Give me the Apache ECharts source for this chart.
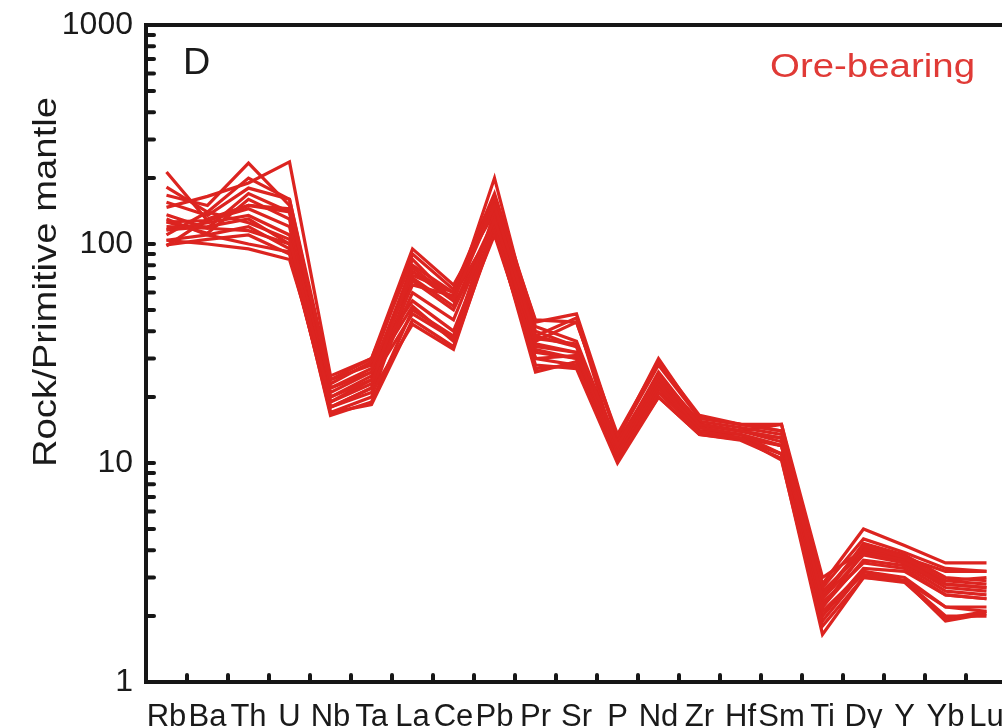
<!DOCTYPE html>
<html>
<head>
<meta charset="utf-8">
<title>Primitive-mantle normalised trace element patterns</title>
<script src="https://cdn.jsdelivr.net/npm/echarts@6/dist/echarts.min.js"></script>
<style>
  html, body { margin: 0; padding: 0; background: #ffffff; }
  #chart { width: 1002px; height: 728px; }
</style>
</head>
<body>
<div id="chart"></div>
<script>
// Element order along the spider diagram
const categories = ['Rb','Ba','Th','U','Nb','Ta','La','Ce','Pb','Pr','Sr','P','Nd','Zr','Hf','Sm','Ti','Dy','Y','Yb','Lu'];

// Rock / primitive mantle ratios, one array per ore-bearing sample
const sample01 = [213, 128, 150, 140, 22, 26, 80, 60, 150, 42, 36, 12, 26, 15, 14, 13, 2.4, 4.3, 3.8, 3.0, 2.9];
const sample02 = [182, 140, 200, 160, 24, 28, 90, 62, 170, 44, 48, 13, 28, 16, 15, 14, 2.8, 5.0, 4.2, 3.5, 3.5];
const sample03 = [167, 150, 234, 150, 20, 25, 75, 55, 200, 38, 46, 11, 24, 15, 14, 15, 2.5, 4.1, 3.6, 2.9, 2.8];
const sample04 = [147, 165, 190, 237, 25, 30, 95, 65, 140, 36, 44, 13, 30, 16, 15, 15, 3.0, 4.0, 3.7, 3.2, 3.2];
const sample05 = [136, 118, 170, 140, 18, 22, 70, 52, 130, 34, 32, 12, 22, 14, 13.5, 12, 2.2, 3.9, 3.5, 2.7, 2.6];
const sample06 = [126, 112, 160, 130, 17, 20, 68, 50, 125, 32, 30, 11, 21, 14, 13, 11, 2.0, 3.3, 3.2, 2.5, 2.4];
const sample07 = [126, 128, 145, 120, 19, 24, 65, 58, 120, 40, 34, 12, 23, 15, 14, 13, 2.6, 3.9, 3.6, 2.8, 2.7];
const sample08 = [116, 125, 135, 110, 23, 29, 55, 40, 118, 33, 30, 11, 22, 14, 13, 12, 2.1, 3.2, 3.0, 2.2, 2.1];
const sample09 = [116, 120, 130, 100, 16.5, 19, 50, 38, 110, 30, 28, 10.5, 20, 13.5, 12.8, 11, 1.9, 3.2, 2.9, 2.0, 2.0];
const sample10 = [104, 110, 120, 95, 17, 18.5, 45, 34, 115, 28, 27, 10, 20, 13.5, 12.7, 10.5, 1.65, 3.0, 2.9, 1.9, 2.05];
const sample11 = [99, 105, 110, 90, 18, 21, 43, 33, 120, 26, 29, 10.5, 21, 14, 13, 10.3, 1.8, 3.0, 2.85, 1.95, 2.1];
const sample12 = [104, 100, 95, 85, 21, 26, 52, 36, 125, 27, 28, 11, 22, 14.5, 13.5, 11, 2.1, 3.1, 2.9, 2.2, 2.2];
const sample13 = [155, 135, 180, 160, 22, 27, 72, 60, 165, 38, 34, 12.5, 25, 15.5, 14.5, 13.5, 2.5, 4.2, 3.7, 2.9, 3.0];
const sample14 = [120, 118, 115, 100, 20, 24, 48, 37, 140, 30, 31, 11, 23, 14.5, 13.5, 12, 2.3, 3.5, 3.3, 2.5, 2.4];
const sample15 = [98, 130, 150, 145, 24, 30, 85, 55, 160, 45, 44, 13.5, 29, 16.5, 15, 14, 2.7, 4.5, 3.9, 3.3, 3.2];
const sample16 = [130, 110, 100, 92, 18, 22, 60, 45, 130, 35, 32, 11.5, 24, 15, 14, 12.5, 2.2, 3.6, 3.4, 2.6, 2.5];
const sample17 = [110, 140, 125, 105, 19, 23, 78, 56, 150, 37, 35, 12, 25, 15, 14, 13, 2.4, 3.8, 3.5, 2.8, 2.7];

const samples = [sample01, sample02, sample03, sample04, sample05, sample06, sample07, sample08, sample09,
                 sample10, sample11, sample12, sample13, sample14, sample15, sample16, sample17];

// Labelled decades on the logarithmic axis
const yTickLabels = [1, 10, 100, 1000];
// Small ticks inside each decade (2..9 x 10^k) plus the inner decade marks
const yInnerTicks = [2, 3, 4, 5, 6, 7, 8, 9, 10, 20, 30, 40, 50, 60, 70, 80, 90, 100, 200, 300, 400, 500, 600, 700, 800, 900];

const lineRed = '#dc2420';
const ink = '#161616';
const fontFamily = '"Liberation Sans", Arial, sans-serif';

const chart = echarts.init(document.getElementById('chart'), null, { renderer: 'canvas' });

const lineSeries = samples.map((values, i) => ({
  name: 'sample' + (i + 1),
  type: 'line',
  data: values,
  symbol: 'none',
  smooth: false,
  silent: true,
  lineStyle: { color: lineRed, width: 3.2, join: 'miter' },
  z: 2
}));

// Inward ticks on the left axis, placed through the y scale
const yTickSeries = {
  type: 'custom',
  silent: true,
  z: 5,
  data: yInnerTicks.map(v => [0, v]),
  renderItem: function (params, api) {
    const pt = api.coord([0, api.value(1)]);
    const x0 = params.coordSys.x + 2;
    return {
      type: 'line',
      shape: { x1: x0, y1: pt[1], x2: x0 + 6, y2: pt[1] },
      style: { stroke: ink, lineWidth: 4, lineCap: 'round' }
    };
  }
};

const option = {
  animation: false,
  backgroundColor: '#ffffff',
  grid: {
    show: true,
    left: 146,
    top: 25,
    right: -5,
    bottom: 46,
    borderColor: ink,
    borderWidth: 4,
    backgroundColor: 'transparent',
    containLabel: false,
    outerBoundsMode: 'none'
  },
  xAxis: {
    type: 'category',
    data: categories,
    boundaryGap: true,
    axisLine: { show: true, lineStyle: { color: ink, width: 4 } },
    axisTick: {
      show: true,
      inside: true,
      alignWithLabel: false,
      length: 7,
      lineStyle: { color: ink, width: 4, cap: 'round' }
    },
    axisLabel: {
      interval: 0,
      margin: 20,
      color: '#1a1a1a',
      fontFamily: fontFamily,
      fontSize: 31,
      hideOverlap: false
    },
    splitLine: { show: false }
  },
  yAxis: {
    type: 'log',
    logBase: 10,
    min: 1,
    max: 1000,
    axisLine: { show: true, lineStyle: { color: ink, width: 4 } },
    axisTick: { show: false },
    axisLabel: {
      margin: 13,
      color: '#1a1a1a',
      fontFamily: fontFamily,
      fontSize: 32,
      formatter: function (v) {
        const r = Math.round(v);
        return yTickLabels.indexOf(r) >= 0 ? String(r) : '';
      }
    },
    splitLine: { show: false },
    minorSplitLine: { show: false }
  },
  graphic: [
    {
      type: 'text',
      x: 47,
      y: 282,
      rotation: Math.PI / 2,
      scaleX: 1.16,
      style: {
        text: 'Rock/Primitive mantle',
        fill: '#1a1a1a',
        font: '33px ' + fontFamily,
        textAlign: 'center',
        textVerticalAlign: 'middle'
      }
    },
    {
      type: 'text',
      x: 183,
      y: 46,
      scaleX: 1.05,
      style: {
        text: 'D',
        fill: '#1a1a1a',
        font: '36px ' + fontFamily
      }
    },
    {
      type: 'text',
      x: 770,
      y: 51,
      scaleX: 1.13,
      style: {
        text: 'Ore-bearing',
        fill: '#e03a36',
        font: '34px ' + fontFamily
      }
    }
  ],
  series: lineSeries.concat([yTickSeries])
};

chart.setOption(option);
</script>
</body>
</html>
